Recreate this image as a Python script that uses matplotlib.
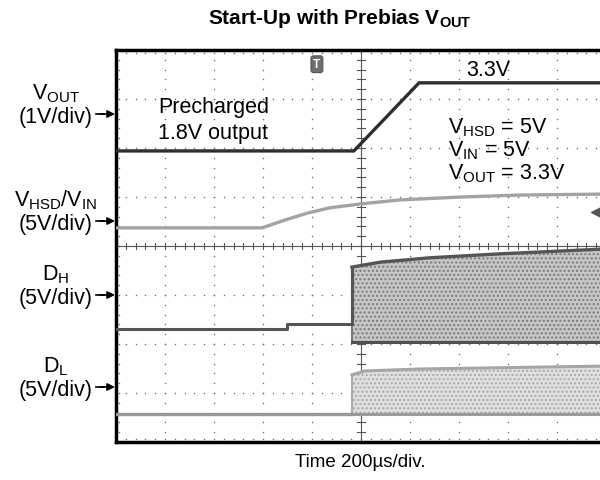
import numpy as np
import matplotlib.pyplot as plt

plt.rcParams['font.family'] = ['Liberation Sans', 'DejaVu Sans']
plt.rcParams['mathtext.fontset'] = 'custom'
plt.rcParams['mathtext.rm'] = 'Liberation Sans'
plt.rcParams['mathtext.bf'] = 'Liberation Sans:bold'
plt.rcParams['hatch.linewidth'] = 1.0

### DATA (time in us, 200 us/div; levels in screen divisions) ###

t_vout = [0, 971, 1237, 2000]
y_vout = [5.94, 5.94, 7.33, 7.33]

t_vin = [0, 596, 690, 780, 873, 1000, 1159, 1408, 1649, 2000]
y_vin = [4.37, 4.37, 4.53, 4.67, 4.78, 4.86, 4.94, 5.00, 5.04, 5.06]

t_dh_pre = [0, 698, 698, 963]
y_dh_pre = [2.31, 2.31, 2.41, 2.41]
t_dh_band = [963, 1078, 1282, 1567, 2000]
y_dh_top = [3.57, 3.67, 3.76, 3.84, 3.94]
y_dh_low = 2.04

t_dl_pre = [0, 963]
y_dl_pre = [0.57, 0.57]
t_dl_band = [963, 1016, 1241, 2000]
y_dl_top = [1.37, 1.45, 1.49, 1.55]
y_dl_low = 0.57

W, H = 600, 481
def fx(px):
    return px / W
def fy(py):
    return 1 - py / H

fig = plt.figure(figsize=(6, 4.81), dpi=100)
fig.patch.set_facecolor('white')
ax = fig.add_axes([fx(116), fy(443), 490 / W, 392 / H])
ax.set_xlim(0, 2000)
ax.set_ylim(0, 8)
ax.set_xticks([])
ax.set_yticks([])
for s in ax.spines.values():
    s.set_linewidth(2.5)
    s.set_color('black')

# dotted graticule
dot = dict(s=1.2, color='#6e6e6e', linewidths=0, zorder=1)
ys = np.arange(0, 8.01, 0.2)
xs = np.arange(0, 2000.1, 40)
for k in range(1, 10):
    if k != 5:
        ax.scatter(np.full(len(ys), k * 200), ys, **dot)
for k in range(1, 8):
    if k != 4:
        ax.scatter(xs, np.full(len(xs), k), **dot)
# border ticks
ax.scatter(xs, np.full(len(xs), 7.94), **dot)
ax.scatter(xs, np.full(len(xs), 0.06), **dot)
ax.scatter(np.full(len(ys), 12), ys, **dot)

# center cross with ticks
ax.axhline(4, color='#555555', lw=0.8, zorder=1)
ax.axvline(1000, color='#555555', lw=0.8, zorder=1)
for x in xs:
    ax.plot([x, x], [3.93, 4.07], color='#555555', lw=0.8, zorder=1)
for y in ys:
    ax.plot([985, 1015], [y, y], color='#555555', lw=0.8, zorder=1)

# switching bands
ax.fill_between(t_dh_band, y_dh_low, y_dh_top, facecolor='#c6c6c6',
                edgecolor='#7a7a7a', hatch='....', linewidth=0, zorder=2)
ax.fill_between(t_dl_band, y_dl_low, y_dl_top, facecolor='#e0e0e0',
                edgecolor='#a8a8a8', hatch='....', linewidth=0, zorder=2)

# traces
ax.plot(t_vout, y_vout, color='#2e2e2e', lw=2.4, zorder=4)
ax.plot(t_vin, y_vin, color='#a3a3a3', lw=2.4, zorder=4)
ax.plot(t_dh_pre + [t_dh_band[0]], y_dh_pre + [y_dh_top[0]], color='#555555', lw=2.2, zorder=4)
ax.plot(t_dh_band, y_dh_top, color='#555555', lw=2.4, zorder=4)
ax.plot([t_dh_band[0], t_dh_band[-1]], [y_dh_low, y_dh_low], color='#505050', lw=2.2, zorder=4)
ax.plot([t_dh_band[0], t_dh_band[0]], [y_dh_low, y_dh_top[0]], color='#777777', lw=1.5, zorder=3)
ax.plot(t_dl_pre, y_dl_pre, color='#999999', lw=2.4, zorder=4)
ax.plot(t_dl_band, y_dl_top, color='#a6a6a6', lw=2.2, zorder=4)
ax.plot([t_dl_band[0], t_dl_band[-1]], [y_dl_low, y_dl_low], color='#999999', lw=2.2, zorder=4)
ax.plot([t_dl_band[0], t_dl_band[0]], [y_dl_low, y_dl_top[0]], color='#aaaaaa', lw=1.5, zorder=3)

# trigger marker and reference arrow
ax.text(820, 7.71, 'T', color='white', fontsize=8.5, fontweight='bold', ha='center', va='center',
        bbox=dict(boxstyle='round,pad=0.2', fc='#6e6e6e', ec='#555555', lw=0.8), zorder=5)
ax.plot([1959], [4.69], marker='<', color='#555555', markersize=7, zorder=5)
ax.plot([1959, 2000], [4.69, 4.69], color='#555555', lw=1.2, zorder=5)

fig.text(fx(340), fy(18), r'Start-Up with Prebias V$_{\mathbf{OUT}}$', fontsize=15,
         fontweight='bold', ha='center', va='center')
fig.text(fx(360), fy(463), 'Time 200µs/div.', fontsize=13.5, ha='center', va='center')

# channel labels
fs = 15.5
labels = [
    (r'V$_{\mathrm{OUT}}$', '(1V/div)', 115),
    (r'V$_{\mathrm{HSD}}$/V$_{\mathrm{IN}}$', '(5V/div)', 222),
    (r'D$_{\mathrm{H}}$', '(5V/div)', 296),
    (r'D$_{\mathrm{L}}$', '(5V/div)', 388),
]
for name, scale, ya in labels:
    fig.text(fx(56), fy(ya - 16), name, fontsize=fs, ha='center', va='baseline')
    fig.text(fx(56), fy(ya + 3), scale, fontsize=fs, ha='center', va='center')
    fig.add_artist(plt.Line2D([fx(96), fx(104)], [fy(ya), fy(ya)], color='black', lw=1.2))
    ax.annotate('', xy=(fx(115), fy(ya)), xycoords='figure fraction',
                xytext=(fx(100), fy(ya)), textcoords='figure fraction',
                arrowprops=dict(arrowstyle='-|>', color='black', lw=1.2, mutation_scale=11,
                                shrinkA=0, shrinkB=0))

# annotations inside the screen
fig.text(fx(488), fy(70), '3.3V', fontsize=fs, ha='center', va='center')
fig.text(fx(158), fy(108), 'Precharged', fontsize=fs, ha='left', va='center')
fig.text(fx(158), fy(134), '1.8V output', fontsize=fs, ha='left', va='center')
fig.text(fx(448), fy(133), r'V$_{\mathrm{HSD}}$ = 5V', fontsize=fs, ha='left', va='baseline')
fig.text(fx(448), fy(156), r'V$_{\mathrm{IN}}$ = 5V', fontsize=fs, ha='left', va='baseline')
fig.text(fx(448), fy(179), r'V$_{\mathrm{OUT}}$ = 3.3V', fontsize=fs, ha='left', va='baseline')

plt.savefig('out.png', dpi=100)
plt.close()
